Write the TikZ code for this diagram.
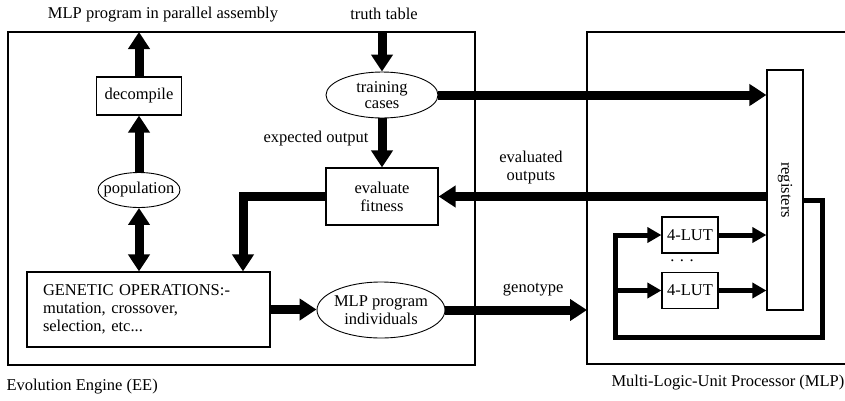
\documentclass[tikz,border=0pt]{standalone}
\usepackage{fontspec}
\setmainfont{Liberation Serif}
\usetikzlibrary{arrows.meta,shapes.geometric}

\begin{document}
\begin{tikzpicture}[x=1pt, y={(0pt,-1pt)}, font=\fontsize{16.5}{18}\selectfont]
        \tikzstyle{box}=[draw, line width=1.2pt, inner sep=0pt, align=center]
        \tikzstyle{oval}=[draw, ellipse, line width=0.9pt, inner sep=-8pt, align=center]
        \tikzstyle{fat}=[line width=9pt, >={Triangle[width=21pt,length=17pt]}]
        \tikzstyle{slim}=[line width=5pt, >={Triangle[width=15pt,length=14pt]}]
        \tikzstyle{unit}=[line width=1.6pt]
        \useasboundingbox (0,0) rectangle (845,400);

        % the two units
        \draw [unit] (8,32) rectangle (475,365);
        \coordinate (mlptop) at (587,32);
        \coordinate (mlpbot) at (587,364);
        \draw [unit] (860,32) -- (mlptop) -- (mlpbot) -- (860,364);
        \node [anchor=west] (ee) at (3,387) {Evolution Engine (EE)};
        \node [anchor=west] (mlp) at (608,383) {Multi-Logic-Unit Processor (MLP)};

        \node (asm) at (163,15) {MLP program in parallel assembly};
        \node (truth) at (384,14) {truth table};
        \coordinate (asmin) at (139,32);
        \coordinate (truthin) at (382,32);

        \node [box, minimum width=85pt, minimum height=38pt] (dec) at (139,96) {decompile};
        \node [oval, minimum width=82pt, minimum height=35pt] (pop) at (139,190) {population};
        \node [box, minimum width=243pt, minimum height=75pt, text width=211pt, align=left] (gen) at (148.5,309.5) {GENETIC OPERATIONS:-\\mutation, crossover,\\selection, etc...};
        \node [oval, minimum width=112pt, minimum height=46pt, font=\fontsize{16.5}{15.5}\selectfont] (train) at (382,95) {training\\cases};
        \node [box, minimum width=112pt, minimum height=57pt] (eval) at (382,196.5) {evaluate\\fitness};
        \node [oval, minimum width=128pt, minimum height=56pt] (ind) at (381,310) {MLP program\\individuals};
        \node [align=center] (evout) at (531,168) {evaluated\\outputs};

        % MLP side
        \node [box, minimum width=36pt, minimum height=240pt] (reg) at (785,190) {\rotatebox{-90}{registers}};
        \node [box, minimum width=56pt, minimum height=36pt] (lut1) at (690,235) {4-LUT};
        \node [box, minimum width=56pt, minimum height=36pt] (lut2) at (690,290.5) {4-LUT};
        \node (dots) at (682,261) {. . .};
        \coordinate (loopr) at (822,337);
        \coordinate (loopl) at (615,337);

        \draw [fat, ->] (dec.north) -- (dec.north |- asmin);
        \draw [fat, ->] (pop.north) -- (dec.south);
        \draw [fat, <->] (pop.south) -- (pop.south |- gen.north);
        \draw [fat, ->] (truthin) -- (train.north);
        \draw [fat, ->] (train.south) -- (eval.north) node [pos=0.4, left, inner sep=9pt] {expected output};
        \draw [fat, ->] (train.east) -- (train.east -| reg.west);
        \draw [fat, ->] (reg.west |- eval.east) -- (eval.east);
        \draw [fat, ->] (eval.west) -| ([xshift=94.5pt]gen.north);
        \draw [fat, ->] (gen.east) -- (gen.east -| ind.west);
        \draw [fat, ->] (ind.east) -- (ind.east -| mlptop) node [pos=0.62, above, inner sep=9pt] {genotype};

        \draw [slim, ->] ([yshift=-10pt]reg.east) -| (loopr) -- (loopl) |- (lut1.west);
        \draw [slim, ->] (loopl |- lut2.west) -- (lut2.west);
        \draw [slim, ->] (lut1.east) -- (lut1.east -| reg.west);
        \draw [slim, ->] (lut2.east) -- (lut2.east -| reg.west);
\end{tikzpicture}
\end{document}
